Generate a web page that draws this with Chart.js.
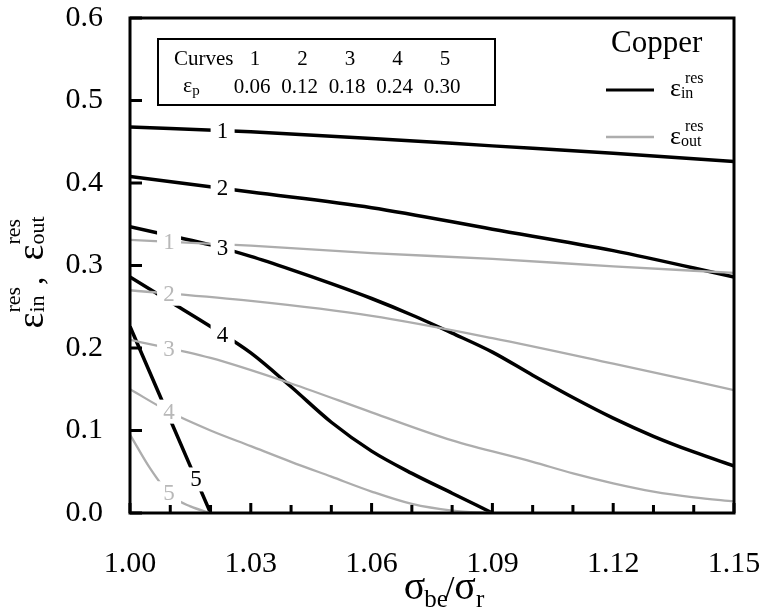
<!DOCTYPE html>
<html>
<head>
<meta charset="utf-8">
<script src="https://cdn.jsdelivr.net/npm/chart.js@4"></script>
<style>
  html, body { margin: 0; padding: 0; background: #fff; }
  #wrap { width: 764px; height: 616px; }
</style>
</head>
<body>
<div id="wrap"><canvas id="chart"></canvas></div>
<script>
// ── Data ────────────────────────────────────────────────────────────────────
// x = sigma_be / sigma_r,  y = residual strain

const X_COARSE = [1.00, 1.03, 1.06, 1.09, 1.12, 1.15];
const X_IN_3   = [1.00, 1.01, 1.02, 1.03, 1.04, 1.05, 1.06, 1.07, 1.08, 1.09, 1.10, 1.11, 1.12, 1.13, 1.14, 1.15];
const X_IN_4   = [1.00, 1.01, 1.02, 1.03, 1.04, 1.05, 1.06, 1.07, 1.08, 1.09];
const X_IN_5   = [1.00, 1.01, 1.02];
const X_OUT_3  = [1.00, 1.02, 1.04, 1.06, 1.08, 1.10, 1.11, 1.12, 1.13, 1.14, 1.15];
const X_OUT_4  = [1.00, 1.01, 1.02, 1.03, 1.04, 1.05, 1.06, 1.07, 1.08, 1.09];
const X_OUT_5  = [1.00, 1.005, 1.01, 1.015, 1.02];

// eps_in^res (black)
const EPS_IN_1 = [0.468, 0.462, 0.454, 0.445, 0.436, 0.426];
const EPS_IN_2 = [0.408, 0.389, 0.370, 0.344, 0.318, 0.286];
const EPS_IN_3 = [0.347, 0.336, 0.325, 0.311, 0.295, 0.278, 0.260, 0.240, 0.218, 0.195, 0.167, 0.140, 0.115, 0.093, 0.074, 0.057];
const EPS_IN_4 = [0.286, 0.256, 0.226, 0.194, 0.153, 0.110, 0.075, 0.048, 0.024, 0.0];
const EPS_IN_5 = [0.226, 0.113, 0.0];

// eps_out^res (grey)
const EPS_OUT_1 = [0.331, 0.324, 0.315, 0.308, 0.299, 0.291];
const EPS_OUT_2 = [0.270, 0.257, 0.239, 0.212, 0.181, 0.149];
const EPS_OUT_3 = [0.210, 0.188, 0.157, 0.122, 0.088, 0.062, 0.048, 0.036, 0.026, 0.019, 0.014];
const EPS_OUT_4 = [0.150, 0.122, 0.100, 0.081, 0.062, 0.044, 0.026, 0.011, 0.003, 0.0];
const EPS_OUT_5 = [0.095, 0.054, 0.022, 0.008, 0.0];

const CURVE_NAMES = ['1', '2', '3', '4', '5'];
const EPS_P       = ['0.06', '0.12', '0.18', '0.24', '0.30'];

// where along x the curve numbers sit
const TAG_X_IN  = [1.023, 1.023, 1.023, 1.023, 1.0164];
const TAG_X_OUT = [1.0097, 1.0097, 1.0097, 1.0097, 1.0097];

// ── Styling ─────────────────────────────────────────────────────────────────
const FONT  = '"Liberation Serif", "Times New Roman", serif';
const BLACK = '#000000';
const GREY  = '#adadad';

const pts = (xs, ys) => xs.map((x, i) => ({ x, y: ys[i] }));

const outSeries = [
  [X_COARSE, EPS_OUT_1], [X_COARSE, EPS_OUT_2], [X_OUT_3, EPS_OUT_3], [X_OUT_4, EPS_OUT_4], [X_OUT_5, EPS_OUT_5],
];
const inSeries = [
  [X_COARSE, EPS_IN_1], [X_COARSE, EPS_IN_2], [X_IN_3, EPS_IN_3], [X_IN_4, EPS_IN_4], [X_IN_5, EPS_IN_5],
];

const lineBase = { pointRadius: 0, fill: false, cubicInterpolationMode: 'monotone' };

const datasets = [
  ...outSeries.map(([xs, ys], i) => ({
    ...lineBase,
    label: 'out ' + CURVE_NAMES[i],
    data: pts(xs, ys),
    borderColor: GREY,
    borderWidth: 2.3,
    tag: CURVE_NAMES[i], tagX: TAG_X_OUT[i], tagColor: '#b8b8b8',
  })),
  ...inSeries.map(([xs, ys], i) => ({
    ...lineBase,
    label: 'in ' + CURVE_NAMES[i],
    data: pts(xs, ys),
    borderColor: BLACK,
    borderWidth: 3.5,
    tag: CURVE_NAMES[i], tagX: TAG_X_IN[i], tagColor: BLACK,
  })),
];

// ── helpers ─────────────────────────────────────────────────────────────────
function pixelYAt(meta, px) {
  const p = meta.data;
  for (let k = 1; k < p.length; k++) {
    if (p[k].x >= px) {
      const t = (px - p[k - 1].x) / (p[k].x - p[k - 1].x);
      return p[k - 1].y + t * (p[k].y - p[k - 1].y);
    }
  }
  return p[p.length - 1].y;
}

// base glyph with stacked subscript / superscript, returns advance width
function drawSym(ctx, x, y, base, size, sub, sup, small, subDy, supDy, supDx) {
  ctx.font = size + 'px ' + FONT;
  ctx.fillText(base, x, y);
  const w = ctx.measureText(base).width;
  ctx.font = small + 'px ' + FONT;
  let w2 = 0;
  if (sub) { ctx.fillText(sub, x + w, y + subDy); w2 = ctx.measureText(sub).width; }
  if (sup) { ctx.fillText(sup, x + w + (supDx || 0), y + supDy); w2 = Math.max(w2, ctx.measureText(sup).width + (supDx || 0)); }
  return w + w2;
}

const decor = {
  id: 'decor',
  afterDatasetsDraw(chart) {
    const ctx = chart.ctx;
    const xs = chart.scales.x;
    const tags = [];
    chart.data.datasets.forEach((ds, i) => {
      const meta = chart.getDatasetMeta(i);
      const px = xs.getPixelForValue(ds.tagX);
      tags.push({ px, py: pixelYAt(meta, px), text: ds.tag, color: ds.tagColor });
    });
    ctx.save();
    ctx.fillStyle = '#fff';
    tags.forEach(t => ctx.fillRect(t.px - 12, t.py - 12, 24, 24));
    ctx.font = '23px ' + FONT;
    ctx.textAlign = 'center';
    ctx.textBaseline = 'middle';
    tags.forEach(t => { ctx.fillStyle = t.color; ctx.fillText(t.text, t.px, t.py + 1); });
    ctx.restore();
  },
  afterDraw(chart) {
    const ctx = chart.ctx;
    const a = chart.chartArea;
    const xs = chart.scales.x, ys = chart.scales.y;
    ctx.save();
    ctx.strokeStyle = BLACK;
    ctx.fillStyle = BLACK;

    // frame
    ctx.lineWidth = 3;
    ctx.strokeRect(a.left, a.top, a.right - a.left, a.bottom - a.top);

    // inward ticks
    ctx.beginPath();
    xs.ticks.forEach(t => {
      const px = xs.getPixelForValue(t.value);
      const major = (Math.round(t.value * 100) - 100) % 3 === 0;
      ctx.moveTo(px, a.bottom);
      ctx.lineTo(px, a.bottom - (major ? 10 : 8));
    });
    ys.ticks.forEach(t => {
      const py = ys.getPixelForValue(t.value);
      ctx.moveTo(a.left, py);
      ctx.lineTo(a.left + 12, py);
    });
    ctx.stroke();

    ctx.textAlign = 'left';
    ctx.textBaseline = 'alphabetic';

    // x title  sigma_be / sigma_r
    const by = a.bottom + 86;
    const parts = [
      { t: 'σ', s: 40, dy: 0, k: -1 },
      { t: 'be', s: 25, dy: 8, k: -3 },
      { t: '/', s: 34, dy: 0, k: 0 },
      { t: 'σ', s: 40, dy: 0, k: 0 },
      { t: 'r', s: 25, dy: 8, k: 0 },
    ];
    let total = 0;
    parts.forEach(p => { ctx.font = p.s + 'px ' + FONT; p.w = ctx.measureText(p.t).width; total += p.w + p.k; });
    let x = (a.left + a.right) / 2 + 12 - total / 2;
    parts.forEach(p => { ctx.font = p.s + 'px ' + FONT; ctx.fillText(p.t, x, by + p.dy); x += p.w + p.k; });

    // y title (rotated)
    ctx.save();
    ctx.translate(43, (a.top + a.bottom) / 2 + 63);
    ctx.rotate(-Math.PI / 2);
    let lx = 0;
    lx += drawSym(ctx, lx, 0, 'ε', 38, 'in', 'res', 22, 1, -23, 0);
    ctx.font = '34px ' + FONT;
    ctx.fillText(',', lx + 2, 0);
    drawSym(ctx, 68, 0, 'ε', 38, 'out', 'res', 22, 1, -23, 0);
    ctx.restore();

    // inset box with curve numbers
    ctx.lineWidth = 2;
    ctx.strokeRect(158, 39, 337, 66);
    ctx.font = '21px ' + FONT;
    ctx.fillText('Curves', 174, 65);
    drawSym(ctx, 183, 92, 'ε', 22, 'p', null, 15, 3, 0);
    ctx.textAlign = 'center';
    CURVE_NAMES.forEach((c, i) => {
      const cx = 252 + i * 47.5;
      ctx.font = '21px ' + FONT;
      ctx.fillText(c, cx + 3, 65);
      ctx.fillText(EPS_P[i], cx, 93);
    });
    ctx.textAlign = 'left';

    // legend
    ctx.font = '31px ' + FONT;
    ctx.fillText('Copper', 611, 52);
    ctx.lineWidth = 3;
    ctx.beginPath(); ctx.moveTo(606, 90); ctx.lineTo(654, 90); ctx.stroke();
    ctx.strokeStyle = GREY;
    ctx.lineWidth = 2.3;
    ctx.beginPath(); ctx.moveTo(606, 137); ctx.lineTo(654, 137); ctx.stroke();
    drawSym(ctx, 670, 96, 'ε', 26, 'in', 'res', 16, 2, -13, 4);
    drawSym(ctx, 670, 144, 'ε', 26, 'out', 'res', 16, 2, -13, 4);

    ctx.restore();
  },
};

new Chart(document.getElementById('chart'), {
  type: 'line',
  data: { datasets },
  options: {
    responsive: true,
    maintainAspectRatio: false,
    animation: false,
    events: [],
    layout: { padding: { top: 18, right: 30, left: 0, bottom: 0 } },
    plugins: { legend: { display: false }, tooltip: { enabled: false } },
    scales: {
      x: {
        type: 'linear',
        min: 1.0,
        max: 1.15,
        grid: { display: false },
        border: { display: false },
        ticks: {
          stepSize: 0.01,
          autoSkip: false,
          maxRotation: 0,
          padding: 25,
          color: BLACK,
          font: { family: FONT, size: 30 },
          callback: v => ((Math.round(v * 100) - 100) % 3 === 0 ? v.toFixed(2) : ''),
        },
        afterFit: s => { s.height = 103; s.paddingLeft = 0; s.paddingRight = 0; },
      },
      y: {
        min: 0,
        max: 0.6,
        grid: { display: false },
        border: { display: false },
        ticks: {
          stepSize: 0.1,
          padding: 19,
          color: BLACK,
          font: { family: FONT, size: 30 },
          callback: v => v.toFixed(1),
        },
        afterFit: s => { s.width = 130; s.paddingTop = 0; s.paddingBottom = 0; },
      },
    },
  },
  plugins: [decor],
});
</script>
</body>
</html>
